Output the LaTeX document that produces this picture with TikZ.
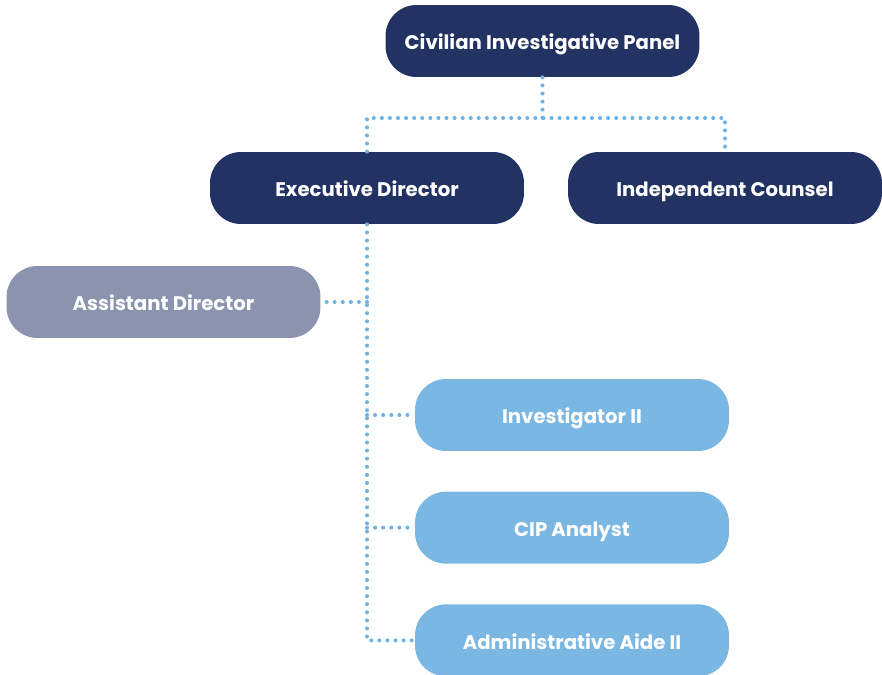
\documentclass[tikz,border=0pt]{standalone}
\usepackage{fontspec}
\setmainfont{Poppins}
\usetikzlibrary{positioning}

\definecolor{navy}{HTML}{213263}
\definecolor{slate}{HTML}{8A94AE}
\definecolor{sky}{HTML}{7AB7E2}
\definecolor{dotline}{HTML}{6FB2E4}

\tikzset{
  post/.style={rectangle, rounded corners=0.62cm, minimum width=6.28cm, minimum height=1.44cm,
    text=white, font=\fontsize{11.2}{13}\selectfont\bfseries, inner sep=0pt,
    text height=2.2ex, text depth=0.35ex},
  lead/.style={post, fill=navy},
  deputy/.style={post, fill=slate},
  staff/.style={post, fill=sky},
  link/.style={draw=dotline, line width=2.3pt, line cap=round, dash pattern=on 0pt off 4.6pt}
}

\begin{document}
\begin{tikzpicture}[x=0.02cm, y=-0.02cm]
   \useasboundingbox (0,0) rectangle (882,675);

   % top of the chart
   \node[lead] (cip) at (542.5,41) {Civilian Investigative Panel};
   \node[lead] (exec) at (367,188) {Executive Director};
   \node[lead] (counsel) at (725,188) {Independent Counsel};

   % people under the director
   \node[deputy] (asst) at (163.5,302) {Assistant Director};
   \node[staff] (inv) at (572,415) {Investigator II};
   \node[staff] (analyst) [below=0.8cm of inv] {CIP Analyst};
   \node[staff] (aide) [below=0.8cm of analyst] {Administrative Aide II};

   \coordinate (split) at (542.5,118);

   \path[link] (cip.south) -- (split);
   \path[link] (exec.north) |- (split) -| (counsel.north);
   \path[link] (exec.south) |- (aide.west);
   \path[link] (exec.south |- asst.east) -- (asst.east);
   \path[link] (exec.south |- inv.west) -- (inv.west);
   \path[link] (exec.south |- analyst.west) -- (analyst.west);
 \end{tikzpicture}
\end{document}
